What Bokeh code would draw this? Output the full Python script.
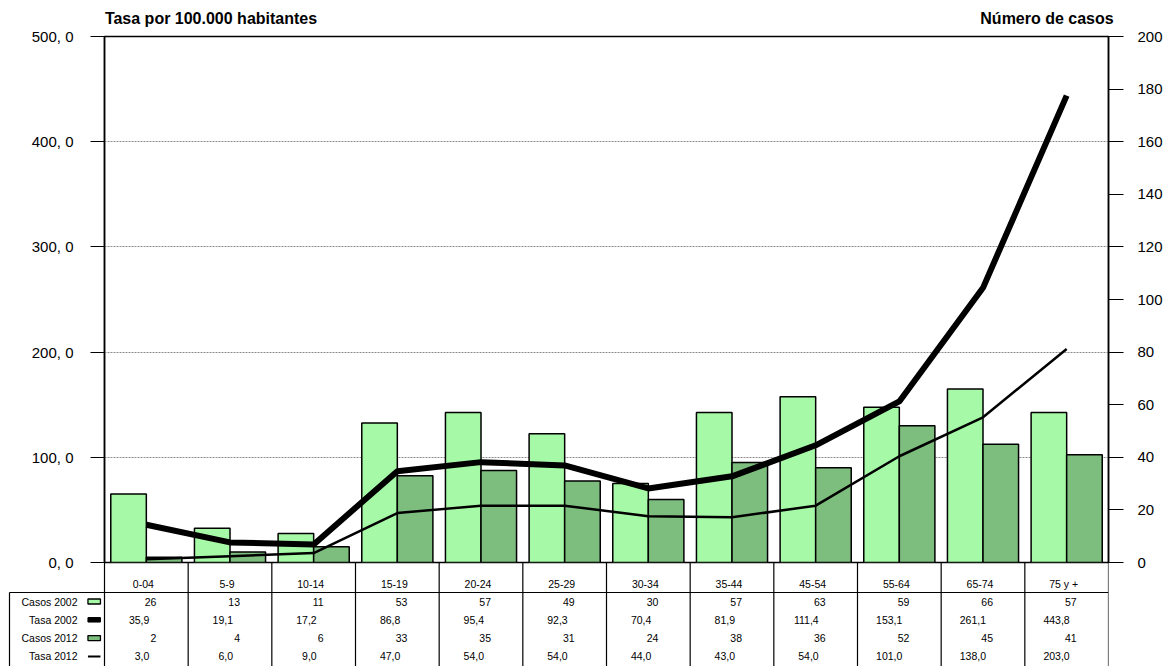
from bokeh.plotting import figure
from bokeh.models import ColumnDataSource, Range1d, LinearAxis, FixedTicker
from bokeh.core.properties import value
from bokeh.embed import file_html
from bokeh.resources import INLINE

# ---------------- data ----------------
categories = ["0-04", "5-9", "10-14", "15-19", "20-24", "25-29", "30-34",
              "35-44", "45-54", "55-64", "65-74", "75 y +"]
casos_2002 = [26, 13, 11, 53, 57, 49, 30, 57, 63, 59, 66, 57]
tasa_2002 = [35.9, 19.1, 17.2, 86.8, 95.4, 92.3, 70.4, 81.9, 111.4, 153.1, 261.1, 443.8]
casos_2012 = [2, 4, 6, 33, 35, 31, 24, 38, 36, 52, 45, 41]
tasa_2012 = [3.0, 6.0, 9.0, 47.0, 54.0, 54.0, 44.0, 43.0, 54.0, 101.0, 138.0, 203.0]
rate_ticks = [0, 100, 200, 300, 400, 500]
case_ticks = [0, 20, 40, 60, 80, 100, 120, 140, 160, 180, 200]
row_names = ["Casos 2002", "Tasa 2002", "Casos 2012", "Tasa 2012"]
left_title = "Tasa por 100.000 habitantes"
right_title = "Número de casos"

# ---------------- style ----------------
FONT = "Liberation Sans"
LIGHT = "#A6F9A6"
DARK = "#7DBD7D"
FRAME_W, FRAME_H = 1004, 526
OVERLAP = 9
B_LEFT, B_RIGHT, B_TOP, B_BOTTOM = 104, 61, 36, OVERLAP
N = len(categories)
PX = FRAME_W / N          # pixels per category band
TABLE_W, TABLE_H = B_LEFT + FRAME_W, 103 + OVERLAP
BAR_W = 0.425


def fmt_rate(v):
    return f"{v:.1f}".replace(".", ",")


centers = [i + 0.5 for i in range(N)]          # category band centres
src = ColumnDataSource(dict(
    x=centers,
    x02=[c - BAR_W / 2 for c in centers],
    x12=[c + BAR_W / 2 for c in centers],
    c02=casos_2002, c12=casos_2012, t02=tasa_2002, t12=tasa_2012))

# ---------------- main chart ----------------
p = figure(x_range=Range1d(0, N), y_range=Range1d(rate_ticks[0], rate_ticks[-1]),
           frame_width=FRAME_W, frame_height=FRAME_H,
           min_border_left=B_LEFT, min_border_right=B_RIGHT,
           min_border_top=B_TOP, min_border_bottom=B_BOTTOM,
           x_axis_location=None, output_backend="svg", toolbar_location=None,
           outline_line_color="black", outline_line_width=1.5,
           background_fill_color="white", border_fill_color="white")
p.extra_y_ranges = {"casos": Range1d(case_ticks[0], case_ticks[-1])}

lax = p.yaxis[0]
lax.ticker = FixedTicker(ticks=rate_ticks)
lax.major_label_overrides = {t: f"{t}, 0" for t in rate_ticks}
rax = LinearAxis(y_range_name="casos", ticker=FixedTicker(ticks=case_ticks))
p.add_layout(rax, "right")
for ax, tout, stand in ((lax, 14, 17), (rax, 15, 14)):
    ax.major_tick_out = tout
    ax.major_tick_in = 0
    ax.minor_tick_out = 0
    ax.minor_tick_in = 0
    ax.major_tick_line_color = "black"
    ax.major_tick_line_width = 1.2
    ax.axis_line_color = "black"
    ax.axis_line_width = 1.5
    ax.major_label_standoff = stand
    ax.major_label_text_font = FONT
    ax.major_label_text_font_size = "15px"
    ax.major_label_text_color = "black"

# axis titles drawn as labels of an unlined axis above the frame
title_centers = [106.5 / PX, 942.5 / PX]   # label centres (pixels from frame left / band width)
tax = LinearAxis(ticker=FixedTicker(ticks=title_centers),
                 major_label_overrides={title_centers[0]: left_title, title_centers[1]: right_title})
tax.axis_line_color = None
tax.major_tick_line_color = None
tax.minor_tick_line_color = None
tax.major_label_standoff = 4
tax.major_label_text_font = FONT
tax.major_label_text_font_size = "16px"
tax.major_label_text_font_style = "bold"
tax.major_label_text_color = "black"
p.add_layout(tax, "above")

p.ygrid.ticker = FixedTicker(ticks=rate_ticks)
p.ygrid.grid_line_color = "#8c8c8c"
p.ygrid.grid_line_dash = "2 1"
p.ygrid.grid_line_width = 1
p.xgrid.visible = False

p.vbar(x="x02", top="c02", width=BAR_W, source=src, y_range_name="casos",
       fill_color=LIGHT, line_color="black", line_width=1.5)
p.vbar(x="x12", top="c12", width=BAR_W, source=src, y_range_name="casos",
       fill_color=DARK, line_color="black", line_width=1.5)
p.line(x="x", y="t02", source=src, line_color="black", line_width=6)
p.line(x="x", y="t12", source=src, line_color="black", line_width=2.5)

# ---------------- data table ----------------
# transparent figure pulled up so that it starts exactly at the chart's x axis
t = figure(x_range=Range1d(N - TABLE_W / PX, N), y_range=Range1d(-TABLE_H, 0),
           frame_width=TABLE_W, frame_height=TABLE_H,
           min_border_left=0, min_border_right=B_RIGHT, min_border_top=0, min_border_bottom=0,
           x_axis_location=None, y_axis_location=None, output_backend="svg",
           toolbar_location=None, outline_line_color=None,
           background_fill_color=None, border_fill_color=None)
t.styles = {"margin-top": f"-{OVERLAP}px"}
t.grid.visible = False

x_left = -95 / PX
header_y = -21
header_line_y = -30
row_y = [-39 - 18.3 * i for i in range(len(row_names))]
bounds = list(range(N + 1))

t.segment(x0=bounds, y0=[0] * len(bounds), x1=bounds, y1=[-TABLE_H] * len(bounds),
          line_color="black", line_width=1.2)
t.segment(x0=[x_left, x_left], y0=[header_line_y, header_line_y], x1=[N, x_left],
          y1=[header_line_y, -TABLE_H], line_color="black", line_width=1.2)

tf = dict(text_font=value(FONT), text_font_size="10.5px", text_color="black",
          text_baseline="middle")
t.text(x=centers, y=[header_y] * N, text=categories, text_align="center", x_offset=-3, **tf)
rows = [[str(v) for v in casos_2002], [fmt_rate(v) for v in tasa_2002],
        [str(v) for v in casos_2012], [fmt_rate(v) for v in tasa_2012]]
offsets = [10, 3, 10, 3]
for vals, y, off in zip(rows, row_y, offsets):
    t.text(x=centers, y=[y] * N, text=vals, text_align="right", x_offset=off, **tf)

t.text(x=[-27 / PX] * len(row_names), y=row_y, text=row_names, text_align="right", **tf)
icon_x = -10.3 / PX
icon_w = 12.5 / PX
t.rect(x=[icon_x, icon_x], y=[row_y[0], row_y[2]], width=icon_w, height=5,
       fill_color=[LIGHT, DARK], line_color="black", line_width=1.3)
t.rect(x=[icon_x], y=[row_y[1]], width=icon_w, height=4.5, fill_color="black", line_color="black")
t.rect(x=[icon_x], y=[row_y[3]], width=icon_w, height=2, fill_color="black", line_color=None)

open("out.html", "w").write(file_html([p, t], INLINE))
